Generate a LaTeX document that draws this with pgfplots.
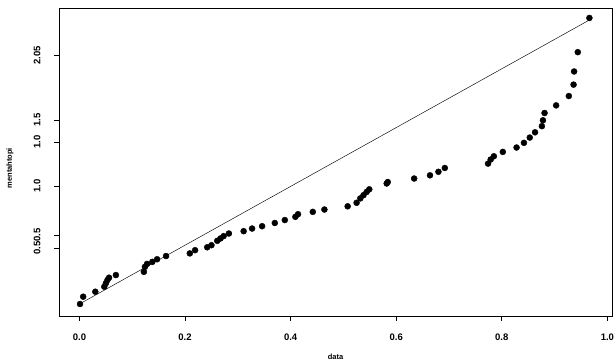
\documentclass[border=0pt]{standalone}
\usepackage{fontspec}
\setmainfont{Liberation Sans}
\usepackage{pgfplots}
\pgfplotsset{compat=1.18}
\begin{document}
\begin{tikzpicture}
\path[use as bounding box] (-59pt,-48pt) rectangle (555pt,316pt);
\begin{axis}[
  at={(0pt,0pt)}, anchor=south west,
  width=553pt, height=308pt, scale only axis,
  xmin=-0.0388, xmax=1.0088, ymin=-0.041, ymax=1.012,
  axis line style={line width=0.6pt},
  tick style={black, line width=0.6pt},
  tick align=outside, major tick length=5pt,
  xtick={0,0.2,0.4,0.6,0.8,1.0},
  xticklabels={0.0,0.2,0.4,0.6,0.8,1.0},
  ytick={0.191,0.235,0.403,0.553,0.628,0.850},
  yticklabels={0.5,0.5,1.0,1.0,1.5,2.05},
  xtick pos=bottom, ytick pos=left,
  /pgf/number format/assume math mode=true,
  ticklabel style={font=\fontsize{9.5}{10}\selectfont\bfseries},
  xticklabel style={yshift=-9pt},
  yticklabel style={rotate=90, anchor=south, xshift=0pt, yshift=10pt},
  xlabel={data}, ylabel={mentahtopi},
  label style={font=\fontsize{7.5}{8}\selectfont\bfseries},
  xlabel style={at={(axis description cs:0.5,0)}, anchor=north, yshift=-35pt},
  ylabel style={at={(axis description cs:0,0.48)}, anchor=south, xshift=0pt, yshift=42pt},
]
\addplot[black, line width=0.45pt, no marks] coordinates {(0,0) (0.97,0.975)};
\addplot[only marks, mark=*, mark size=3pt, black, fill=black] coordinates {
(0.001,0.000) (0.007,0.025) (0.030,0.042) (0.047,0.059) (0.050,0.071)
(0.053,0.082) (0.056,0.090) (0.069,0.099) (0.122,0.110) (0.124,0.127)
(0.128,0.137) (0.138,0.144) (0.147,0.153) (0.164,0.164) (0.209,0.173)
(0.219,0.184) (0.242,0.194) (0.250,0.201) (0.261,0.216) (0.267,0.224)
(0.273,0.232) (0.283,0.241) (0.311,0.249) (0.327,0.258) (0.346,0.266)
(0.370,0.277) (0.389,0.287) (0.409,0.298) (0.414,0.307) (0.442,0.315)
(0.464,0.323) (0.508,0.334) (0.525,0.346) (0.532,0.361) (0.538,0.372)
(0.544,0.383) (0.549,0.392) (0.582,0.412) (0.584,0.417) (0.634,0.429)
(0.664,0.440) (0.680,0.452) (0.692,0.465) (0.774,0.480) (0.779,0.494)
(0.785,0.505) (0.802,0.520) (0.828,0.535) (0.842,0.551) (0.853,0.569)
(0.863,0.587) (0.876,0.608) (0.878,0.628) (0.881,0.653) (0.903,0.679)
(0.927,0.711) (0.936,0.750) (0.937,0.795) (0.944,0.861) (0.966,0.978)
};
\end{axis}
\end{tikzpicture}
\end{document}
